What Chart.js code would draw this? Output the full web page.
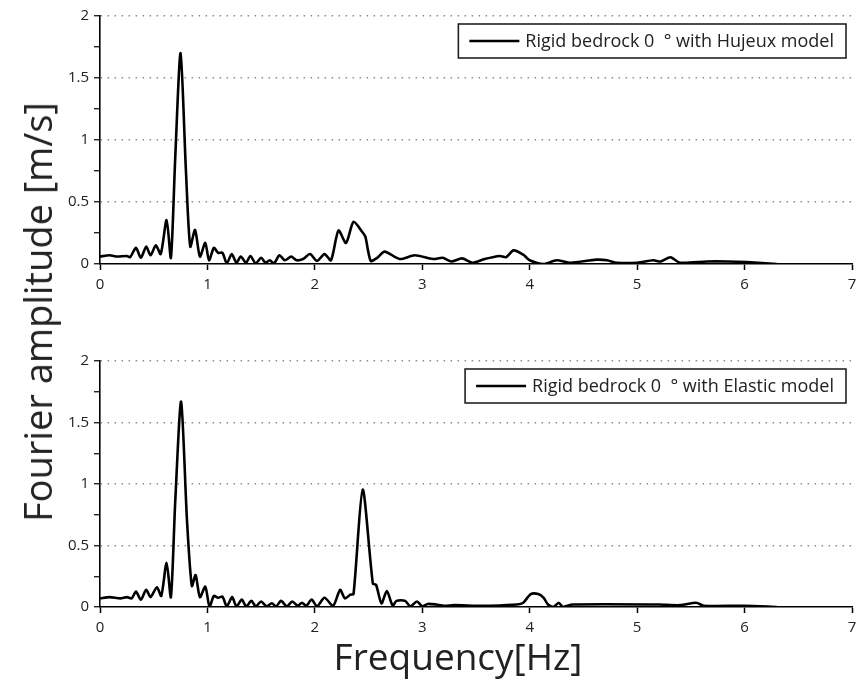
<!DOCTYPE html>
<html>
<head>
<meta charset="utf-8">
<script src="https://cdn.jsdelivr.net/npm/chart.js@4.4.1/dist/chart.umd.min.js"></script>
<style>
    body { margin: 0; background: #fff; }
    #wrap { position: relative; width: 857px; height: 684px; }
    #topChart { position: absolute; left: 0; top: 0; }
    #botChart { position: absolute; left: 0; top: 330px; }
    .title { position: absolute; font-family: "Open Sans", sans-serif; color: #222; white-space: nowrap; }
    #ytitle { left: 37px; top: 312px; font-size: 38px; transform: translate(-50%, -50%) rotate(-90deg); }
    #xtitle { left: 458px; top: 655px; font-size: 37px; transform: translate(-50%, -50%); }
</style>
</head>
<body>
<div id="wrap">
    <canvas id="topChart" width="857" height="330"></canvas>
    <canvas id="botChart" width="857" height="354"></canvas>
    <div class="title" id="ytitle">Fourier amplitude [m/s]</div>
    <div class="title" id="xtitle">Frequency[Hz]</div>
</div>
<script>
// Hujeux model spectrum (frequency in Hz, amplitude in m/s)
const hujeuxFreq = [0, 0.09, 0.16, 0.25, 0.28, 0.335, 0.38, 0.43, 0.47, 0.52, 0.565, 0.62, 0.66, 0.70, 0.75, 0.80,
    0.84, 0.885, 0.93, 0.98, 1.015, 1.06, 1.10, 1.14, 1.18, 1.226, 1.27, 1.31, 1.36, 1.40, 1.45, 1.50, 1.54, 1.58,
    1.62, 1.67, 1.72, 1.78, 1.83, 1.89, 1.955, 2.02, 2.09, 2.15, 2.22, 2.29, 2.36, 2.44, 2.47, 2.52, 2.58, 2.65,
    2.79, 2.93, 3.10, 3.19, 3.27, 3.37, 3.47, 3.58, 3.72, 3.78, 3.85, 3.94, 4.0, 4.13, 4.25, 4.38, 4.62, 4.72,
    4.81, 5.0, 5.15, 5.22, 5.31, 5.40, 5.65, 5.84, 6.02, 6.30];
const hujeuxAmp = [0.06, 0.07, 0.06, 0.065, 0.055, 0.13, 0.05, 0.14, 0.07, 0.15, 0.08, 0.355, 0.05, 0.85, 1.70, 0.75,
    0.14, 0.275, 0.06, 0.17, 0.03, 0.13, 0.09, 0.09, 0.005, 0.08, 0.01, 0.06, 0.01, 0.065, 0.005, 0.05, 0.01, 0.03,
    0.005, 0.07, 0.03, 0.06, 0.03, 0.04, 0.08, 0.025, 0.08, 0.03, 0.27, 0.17, 0.34, 0.26, 0.22, 0.025, 0.05, 0.10,
    0.04, 0.07, 0.04, 0.05, 0.02, 0.045, 0.01, 0.04, 0.065, 0.055, 0.11, 0.075, 0.03, 0.0, 0.03, 0.01, 0.035, 0.03,
    0.01, 0.01, 0.03, 0.02, 0.055, 0.01, 0.02, 0.02, 0.015, 0.0];

// Elastic model spectrum
const elasticFreq = [0, 0.09, 0.19, 0.25, 0.295, 0.335, 0.38, 0.43, 0.47, 0.53, 0.57, 0.62, 0.66, 0.70, 0.755, 0.81,
    0.855, 0.89, 0.93, 0.98, 1.02, 1.06, 1.10, 1.14, 1.18, 1.23, 1.27, 1.32, 1.36, 1.41, 1.45, 1.50, 1.55, 1.60,
    1.64, 1.685, 1.74, 1.79, 1.84, 1.88, 1.92, 1.97, 2.02, 2.09, 2.17, 2.235, 2.28, 2.33, 2.36, 2.445, 2.54, 2.57,
    2.62, 2.67, 2.725, 2.76, 2.84, 2.89, 2.95, 3.0, 3.05, 3.13, 3.2, 3.3, 3.5, 3.63, 3.88, 3.94, 4.01, 4.08, 4.13,
    4.17, 4.22, 4.27, 4.31, 4.4, 5.2, 5.4, 5.55, 5.62, 6.0, 6.30];
const elasticAmp = [0.07, 0.08, 0.07, 0.08, 0.07, 0.125, 0.06, 0.14, 0.08, 0.16, 0.09, 0.36, 0.08, 0.85, 1.67, 0.70,
    0.17, 0.26, 0.08, 0.165, 0.0, 0.09, 0.075, 0.085, 0.005, 0.08, 0.005, 0.06, 0.005, 0.05, 0.005, 0.045, 0.005, 0.03,
    0.005, 0.05, 0.005, 0.045, 0.01, 0.035, 0.01, 0.06, 0.005, 0.075, 0.01, 0.14, 0.07, 0.10, 0.105, 0.955, 0.19, 0.18,
    0.03, 0.13, 0.01, 0.05, 0.05, 0.005, 0.045, 0.005, 0.025, 0.02, 0.01, 0.015, 0.01, 0.01, 0.02, 0.035, 0.105, 0.105, 0.075,
    0.02, 0.0, 0.035, 0.0, 0.02, 0.02, 0.015, 0.035, 0.01, 0.01, 0.0];

const xTicks = [0, 1, 2, 3, 4, 5, 6, 7];
const yLabels = [0, 0.5, 1, 1.5, 2];

const tickFont = { family: 'Open Sans', size: 15 };

function toPoints(xs, ys) {
    return xs.map((x, i) => ({ x: x, y: ys[i] }));
}

// legend drawn as a boxed entry in the top-right corner of the plot
const boxLegend = {
    id: 'boxLegend',
    afterDatasetsDraw(chart, args, opts) {
        const ctx = chart.ctx;
        const area = chart.chartArea;
        const label = chart.data.datasets[0].label;
        ctx.save();
        ctx.font = '18px "Open Sans"';
        const tw = ctx.measureText(label).width;
        const w = 11 + 50 + 6 + tw + 12;
        const h = 34;
        const x0 = area.right - opts.right - w;
        const y0 = area.top + opts.top;
        ctx.fillStyle = '#fff';
        ctx.fillRect(x0, y0, w, h);
        ctx.strokeStyle = '#222';
        ctx.lineWidth = 1.6;
        ctx.strokeRect(x0, y0, w, h);
        ctx.beginPath();
        ctx.moveTo(x0 + 11, y0 + h / 2);
        ctx.lineTo(x0 + 61, y0 + h / 2);
        ctx.lineWidth = 2.5;
        ctx.strokeStyle = '#000';
        ctx.stroke();
        ctx.fillStyle = '#222';
        ctx.textBaseline = 'middle';
        ctx.fillText(label, x0 + 67, y0 + h / 2 + 1);
        ctx.restore();
    }
};

function makeChart(id, label, xs, ys, padTop, xHeight) {
    const ctx = document.getElementById(id).getContext('2d');
    return new Chart(ctx, {
        type: 'scatter',
        data: {
            datasets: [{
                label: label,
                data: toPoints(xs, ys),
                showLine: true,
                borderColor: '#000',
                borderWidth: 2.6,
                pointRadius: 0,
                tension: 0.25,
                fill: false
            }]
        },
        options: {
            responsive: false,
            animation: false,
            layout: { padding: { left: 0, right: 5, top: padTop, bottom: 0 } },
            plugins: {
                legend: { display: false },
                tooltip: { enabled: false },
                boxLegend: { right: 6, top: 8 }
            },
            scales: {
                x: {
                    type: 'linear',
                    min: 0,
                    max: 7,
                    afterBuildTicks: s => { s.ticks = xTicks.map(v => ({ value: v })); },
                    ticks: { font: tickFont, color: '#222', padding: 6, maxRotation: 0 },
                    grid: { drawOnChartArea: false, tickColor: '#000', tickLength: 6, tickWidth: 1.5 },
                    border: { color: '#000', width: 1.6 },
                    afterFit: s => { s.height = xHeight; s.paddingLeft = 0; s.paddingRight = 0; }
                },
                y: {
                    min: 0,
                    max: 2,
                    ticks: {
                        stepSize: 0.25,
                        autoSkip: false,
                        font: tickFont,
                        color: '#222',
                        padding: 5,
                        callback: v => yLabels.includes(v) ? String(v) : ''
                    },
                    grid: {
                        color: c => (c.tick && c.tick.value > 0 && yLabels.includes(c.tick.value)) ? '#8a8a8a' : 'transparent',
                        lineWidth: 1.5,
                        tickColor: '#000',
                        tickLength: 6,
                        tickWidth: 1.2
                    },
                    border: { color: '#000', width: 1.6, dash: [1.5, 5.5] },
                    afterFit: s => { s.width = 100; }
                }
            }
        },
        plugins: [boxLegend]
    });
}

makeChart('topChart', 'Rigid bedrock 0  \u00b0 with Hujeux model', hujeuxFreq, hujeuxAmp, 16, 66);
makeChart('botChart', 'Rigid bedrock 0  \u00b0 with Elastic model', elasticFreq, elasticAmp, 31, 77);
</script>
</body>
</html>
